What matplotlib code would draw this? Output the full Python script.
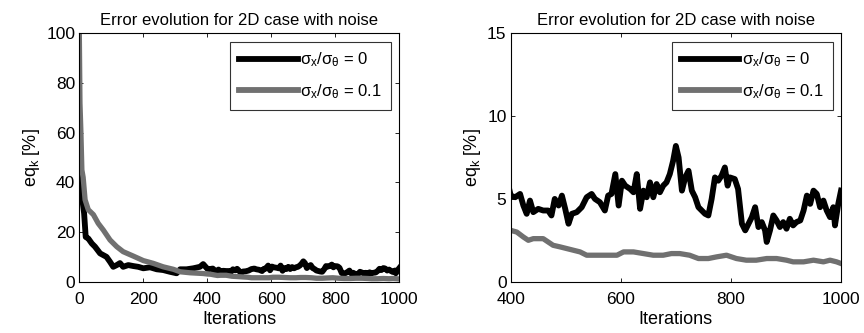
import matplotlib
matplotlib.use("Agg")
import matplotlib.pyplot as plt

plt.rcParams['font.family'] = ['Liberation Sans', 'DejaVu Sans']
plt.rcParams['mathtext.fontset'] = 'custom'
plt.rcParams['mathtext.rm'] = 'Liberation Sans'
plt.rcParams['mathtext.it'] = 'Liberation Sans'
plt.rcParams['mathtext.default'] = 'regular'

# ---- data ----
black_iter = [0, 7, 15, 20, 28, 39, 49, 65, 75, 85, 96, 106, 117, 127, 137, 153, 169, 184, 200, 221,
              242, 262, 283, 304, 315, 335, 356, 377, 387,
              400, 408, 417, 423, 429, 435, 441, 450, 459, 468, 474, 480, 487, 493, 499, 505, 511, 520, 529, 538,
              547, 553, 562, 571, 577, 583, 590, 596, 602, 608, 617, 623, 629, 635, 641, 647, 653, 659, 665, 671,
              677, 683, 689, 695, 700, 705, 711, 717, 723, 729, 735, 741, 747, 753, 759, 765, 771, 777, 783, 789,
              794, 798, 807, 813, 820, 826, 832, 838, 844, 850, 856, 862, 865, 871, 877, 883, 889, 895, 901, 907,
              913, 919, 926, 932, 938, 944, 950, 956, 962, 968, 974, 980, 986, 989, 995, 1000]
black_err = [42, 35.6, 27.5, 18, 17.4, 15.4, 14.1, 11.4, 10.7, 10, 8, 6, 6.7, 7.5, 6, 6.7, 6.3, 6, 5.4, 5.8,
             5, 4.7, 4, 3.4, 5, 5, 5.4, 6, 7.1,
             5.2, 5.1, 5.3, 4.6, 4.1, 4.9, 4.2, 4.4, 4.3, 4.3, 4.0, 5.0, 4.6, 5.2, 4.4, 3.5, 4.1, 4.2, 4.5, 5.1,
             5.3, 5.0, 4.8, 4.3, 5.2, 5.3, 6.5, 4.6, 6.1, 5.8, 5.6, 5.4, 6.5, 4.4, 5.5, 5.1, 6.0, 5.1, 5.9, 5.4,
             5.8, 6.0, 6.5, 7.3, 8.2, 7.5, 5.5, 6.3, 6.7, 5.5, 5.1, 4.5, 4.3, 4.1, 4.0, 5.0, 6.3, 6.1, 6.4, 6.9,
             5.8, 6.3, 6.2, 5.6, 3.5, 3.1, 3.5, 3.9, 4.5, 3.3, 3.6, 3.1, 2.4, 3.1, 4.0, 3.7, 3.3, 3.6, 3.2, 3.8,
             3.4, 3.6, 3.7, 4.3, 5.2, 4.7, 5.5, 5.3, 4.5, 4.9, 4.3, 3.9, 4.5, 3.4, 4.7, 5.5]

gray_iter = [0, 2, 5, 8, 12, 18, 28, 44, 59, 75, 96, 117, 137, 169, 200, 231, 262, 294, 315, 346, 387,
             400, 411, 423, 432, 441, 459, 468, 477, 490, 502, 514, 526, 538, 556, 574, 593, 605, 623, 641, 659,
             677, 692, 707, 725, 741, 759, 774, 792, 810, 828, 846, 865, 883, 901, 913, 932, 950, 968, 980, 992, 1000]
gray_err = [100, 72, 60, 45, 42, 33, 29, 27, 23.5, 20.8, 16.8, 14.1, 12.1, 10.3, 8.5, 7.4, 6.0, 5.0, 4.0, 3.6, 3.3,
            3.1, 3.0, 2.7, 2.5, 2.6, 2.6, 2.4, 2.2, 2.1, 2.0, 1.9, 1.8, 1.6, 1.6, 1.6, 1.6, 1.8, 1.8, 1.7, 1.6,
            1.6, 1.7, 1.7, 1.6, 1.4, 1.4, 1.5, 1.6, 1.4, 1.3, 1.3, 1.4, 1.4, 1.3, 1.2, 1.2, 1.3, 1.2, 1.3, 1.2, 1.1]

labels = [r'$\sigma_x/\sigma_\theta$ = 0', r'$\sigma_x/\sigma_\theta$ = 0.1']
title = 'Error evolution for 2D case with noise'
xlims = [(0, 1000), (400, 1000)]
ylims = [(0, 100), (0, 15)]
xticks = [[0, 200, 400, 600, 800, 1000], [400, 600, 800, 1000]]
yticks = [[0, 20, 40, 60, 80, 100], [0, 5, 10, 15]]

GRAY = '#707070'

fig = plt.figure(figsize=(8.64, 3.33), dpi=100)
axes = [fig.add_axes([0.0918, 0.154, 0.3704, 0.746]),
        fig.add_axes([0.5911, 0.154, 0.3823, 0.746])]

for i, ax in enumerate(axes):
    ax.plot(black_iter, black_err, color='black', lw=4.2, label=labels[0], solid_joinstyle='round')
    ax.plot(gray_iter, gray_err, color=GRAY, lw=3.8, label=labels[1], solid_joinstyle='round')
    ax.set_xlim(*xlims[i])
    ax.set_ylim(*ylims[i])
    ax.set_xticks(xticks[i])
    ax.set_yticks(yticks[i])
    ax.tick_params(axis='x', pad=7.5)
    ax.tick_params(axis='y', pad=3)
    ax.tick_params(direction='in', top=True, right=True, labelsize=12.5, length=2.7, width=0.6)
    for s in ax.spines.values():
        s.set_linewidth(0.8)
    ax.set_title(title, fontsize=12, pad=6)
    ax.set_xlabel('Iterations', fontsize=13, labelpad=3)
    ax.set_ylabel(r'$eq_k$ [%]', fontsize=13, labelpad=3)
    leg = ax.legend(loc='upper right', fontsize=12, frameon=True, fancybox=False,
                    edgecolor='black', handlelength=3.5, handletextpad=0.15,
                    labelspacing=0.75, borderaxespad=0.5, borderpad=0.55)
    leg.get_frame().set_linewidth(0.8)
    for ln in leg.get_lines():
        ln.set_linewidth(4.2)

fig.savefig('out.png', dpi=100)
